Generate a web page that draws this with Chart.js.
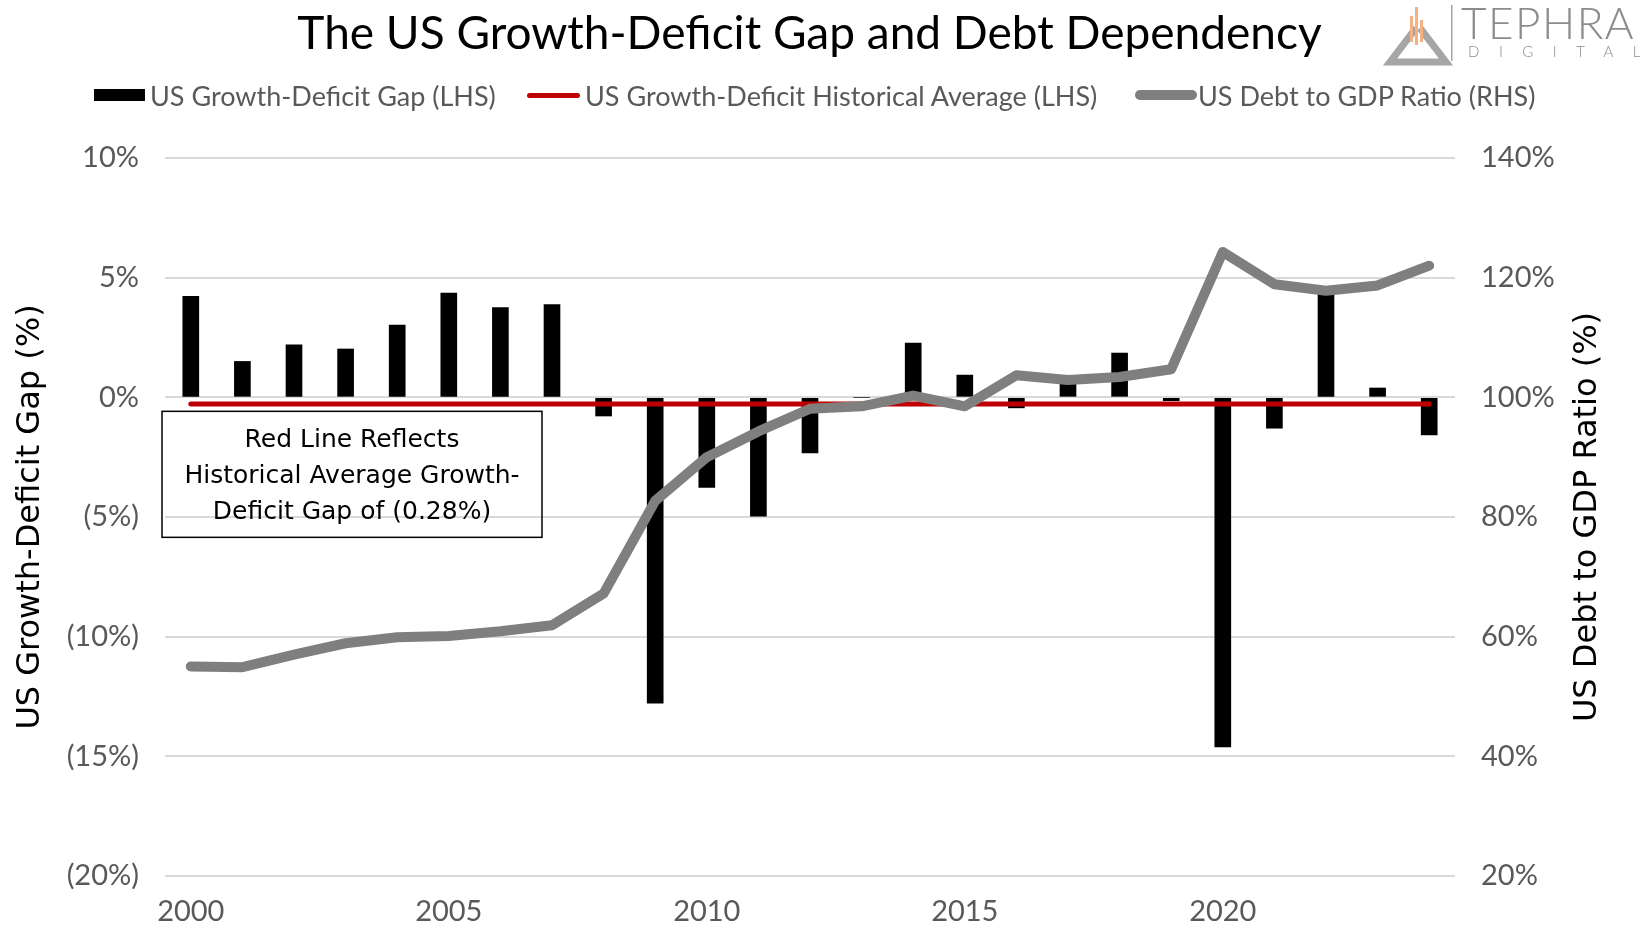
<!DOCTYPE html>
<html>
<head>
<meta charset="utf-8">
<script src="https://cdn.jsdelivr.net/npm/chart.js@4.4.1/dist/chart.umd.min.js"></script>
<style>
  body { margin: 0; background: #fff; }
  #wrap { position: relative; width: 1647px; height: 926px; overflow: hidden; }
  #chart { position: absolute; left: 0; top: 0; }
  .title { position: absolute; left: 0; width: 1619px; top: 5px; text-align: center;
    font-family: Lato, sans-serif; font-size: 46px; line-height: 54px; color: #000; }
  .leg { position: absolute; top: 80px; height: 30px; display: flex; align-items: center;
    font-family: Lato, sans-serif; font-size: 27px; color: #595959; white-space: nowrap; }
  .mk { display: inline-block; }
  .logo-t { position: absolute; left: 1461px; top: -1px; font-family: Lato, sans-serif; font-weight: 300;
    font-size: 44px; letter-spacing: 1.5px; color: #8c8c8c; line-height: 46px; }
  .logo-d { position: absolute; left: 1468px; top: 43px; font-family: Lato, sans-serif; font-weight: 300;
    font-size: 15px; letter-spacing: 19.5px; color: #8c8c8c; line-height: 17px; }
</style>
</head>
<body>
<div id="wrap">
  <canvas id="chart" width="1647" height="926"></canvas>
  <div class="title">The US Growth-Deficit Gap and Debt Dependency</div>

  <div class="leg" style="left:94px"><span class="mk" style="width:51px;height:12px;background:#000"></span><span style="margin-left:5px">US Growth-Deficit Gap (LHS)</span></div>
  <div class="leg" style="left:527px"><span class="mk" style="width:53px;height:5px;border-radius:3px;background:#c00000"></span><span style="margin-left:5px">US Growth-Deficit Historical Average (LHS)</span></div>
  <div class="leg" style="left:1135px"><span class="mk" style="width:62px;height:10px;border-radius:5px;background:#7f7f7f"></span><span style="margin-left:1px">US Debt to GDP Ratio (RHS)</span></div>

  <svg style="position:absolute;left:1380px;top:0" width="80" height="66" viewBox="0 0 80 66">
    <path d="M36 28 L10 62 L66 62 L40 28" fill="none" stroke="#a6a6a6" stroke-width="7" stroke-linejoin="miter"/>
    <rect x="28" y="48" width="20" height="8" fill="#fff"/>
    <rect x="30" y="16" width="3" height="26" fill="#f4b183"/>
    <rect x="35" y="7" width="3" height="38" fill="#f4b183"/>
    <rect x="40" y="20" width="3" height="22" fill="#f4b183"/>
    <rect x="71" y="5" width="1.5" height="56" fill="#a6a6a6"/>
  </svg>
  <div class="logo-t">TEPHRA</div>
  <div class="logo-d">DIGITAL</div>
</div>
<script>
const years = ['2000','2001','2002','2003','2004','2005','2006','2007','2008','2009','2010','2011','2012',
  '2013','2014','2015','2016','2017','2018','2019','2020','2021','2022','2023','2024'];
const growthDeficitGap = [4.22, 1.50, 2.19, 2.02, 3.02, 4.36, 3.75, 3.88, -0.78, -12.78, -3.76, -4.97, -2.32,
  0.0, 2.27, 0.93, -0.44, 0.6, 1.85, -0.14, -14.61, -1.29, 4.3, 0.39, -1.57];
const historicalAverage = [-0.28, -0.28, -0.28, -0.28, -0.28, -0.28, -0.28, -0.28, -0.28, -0.28, -0.28, -0.28, -0.28,
  -0.28, -0.28, -0.28, -0.28, -0.28, -0.28, -0.28, -0.28, -0.28, -0.28, -0.28, -0.28];
const debtToGdp = [55.0, 54.9, 57.0, 58.9, 59.9, 60.1, 60.9, 61.9, 67.2, 82.7, 90.0, 94.3, 98.1,
  98.5, 100.3, 98.5, 103.7, 102.9, 103.4, 104.7, 124.3, 118.9, 117.8, 118.7, 122.0];
const noteLines = ['Red Line Reflects', 'Historical Average Growth-', 'Deficit Gap of (0.28%)'];
const leftTitle = 'US Growth-Deficit Gap (%)';
const rightTitle = 'US Debt to GDP Ratio (%)';

const tickFont = { family: 'Lato, sans-serif', size: 29 };

// text box under the red line, plus both axis titles read bottom-to-top
const notePlugin = {
  id: 'note',
  afterDraw(chart) {
    const { ctx, chartArea } = chart;
    const y0 = chart.scales.y.getPixelForValue(0);
    const left = chartArea.left - 3, top = y0 + 14, w = 380, h = 126;
    ctx.save();
    ctx.strokeStyle = '#000';
    ctx.lineWidth = 1.5;
    ctx.strokeRect(left, top, w, h);
    ctx.fillStyle = '#000';
    ctx.font = "25px 'DejaVu Sans', sans-serif";
    ctx.textAlign = 'center';
    ctx.textBaseline = 'middle';
    noteLines.forEach((t, i) => ctx.fillText(t, left + w / 2, top + 29 + i * 36));

    const midY = (chartArea.top + chartArea.bottom) / 2;
    ctx.font = "32px 'DejaVu Sans', sans-serif";
    [[31, leftTitle], [chart.width - 59, rightTitle]].forEach(([x, t]) => {
      ctx.save();
      ctx.translate(x, midY);
      ctx.rotate(-Math.PI / 2);
      ctx.fillText(t, 0, 0);
      ctx.restore();
    });
    ctx.restore();
  }
};

new Chart(document.getElementById('chart'), {
  data: {
    labels: years,
    datasets: [
      {
        type: 'line',
        label: 'US Debt to GDP Ratio (RHS)',
        data: debtToGdp,
        yAxisID: 'y1',
        borderColor: '#7f7f7f',
        borderWidth: 10,
        borderCapStyle: 'round',
        borderJoinStyle: 'round',
        pointRadius: 0,
        tension: 0,
        order: 0
      },
      {
        type: 'line',
        label: 'US Growth-Deficit Historical Average (LHS)',
        data: historicalAverage,
        yAxisID: 'y',
        borderColor: '#c00000',
        borderWidth: 5,
        borderCapStyle: 'round',
        pointRadius: 0,
        order: 1
      },
      {
        type: 'bar',
        label: 'US Growth-Deficit Gap (LHS)',
        data: growthDeficitGap,
        yAxisID: 'y',
        backgroundColor: '#000',
        barThickness: 16,
        order: 2
      }
    ]
  },
  options: {
    responsive: false,
    animation: false,
    layout: { autoPadding: false, padding: { top: 158, left: 0, right: 0, bottom: 0 } },
    plugins: { legend: { display: false }, tooltip: { enabled: false } },
    scales: {
      x: {
        grid: { display: false },
        border: { display: false },
        ticks: {
          color: '#595959', font: tickFont, padding: 10, autoSkip: false, maxRotation: 0,
          callback(v) {
            const lab = this.getLabelForValue(v);
            return Number(lab) % 5 === 0 ? lab : '';
          }
        },
        afterFit(s) { s.height = 50; }
      },
      y: {
        position: 'left',
        min: -20, max: 10,
        grid: { color: '#d9d9d9', lineWidth: 2, drawTicks: false },
        border: { display: false },
        ticks: {
          stepSize: 5, color: '#595959', font: tickFont, padding: 26,
          callback: v => v < 0 ? '(' + (-v) + '%)' : v + '%'
        },
        afterFit(s) { s.width = 165; }
      },
      y1: {
        position: 'right',
        min: 20, max: 140,
        grid: { display: false, drawTicks: false },
        border: { display: false },
        ticks: { stepSize: 20, color: '#595959', font: tickFont, padding: 26, callback: v => v + '%' },
        afterFit(s) { s.width = 192; }
      }
    }
  },
  plugins: [notePlugin]
});
</script>
</body>
</html>
